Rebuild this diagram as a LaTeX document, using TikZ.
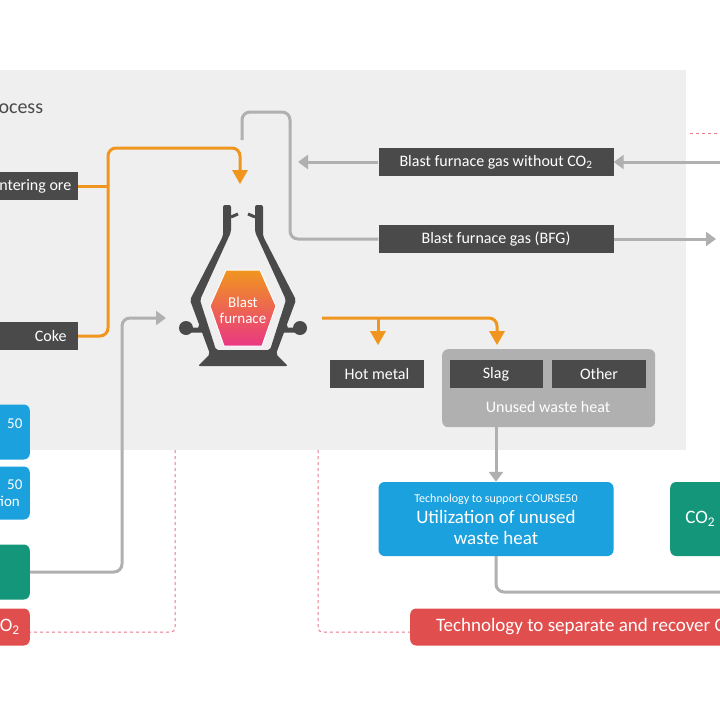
\documentclass[tikz,border=0pt]{standalone}
\usepackage{fontspec}
\setmainfont{Carlito}
\usetikzlibrary{arrows.meta}
\definecolor{dgray}{HTML}{4A4A4A}
\definecolor{bgray}{HTML}{EFEFEF}
\definecolor{pgray}{HTML}{B0B0B0}
\definecolor{orng}{HTML}{F0961E}
\definecolor{cblue}{HTML}{1BA1DD}
\definecolor{cgreen}{HTML}{14967A}
\definecolor{cred}{HTML}{E04E4E}
\definecolor{pink}{HTML}{E8788C}
\tikzstyle{box}=[rectangle,fill=dgray,text=white,inner sep=0pt,font=\fontsize{16}{18}\selectfont]
\tikzstyle{tech}=[rectangle,rounded corners=6pt,text=white,inner sep=0pt,align=center]
\tikzstyle{ore}=[draw=orng,line width=3pt,rounded corners=8pt]
\tikzstyle{pipe}=[draw=pgray,line width=3pt,rounded corners=8pt]
\tikzstyle{link}=[draw=pink,line width=1pt,dash pattern=on 3pt off 3pt,rounded corners=4pt]
\begin{document}
\begin{tikzpicture}[x=1pt,y=-1pt]
\useasboundingbox (0,0) rectangle (720,720);
\clip (0,0) rectangle (720,720);
\fill[bgray] (-10,70) rectangle (686,450);
\node[anchor=west,font=\fontsize{20}{22}\selectfont,text=dgray] (title) at (-22,107) {Process};

\node[box,minimum width=120,minimum height=28,anchor=east] (sinter) at (78,186) {\hspace*{24pt}Sintering ore};
\node[box,minimum width=80,minimum height=28,anchor=east] (coke) at (78,336) {\hspace*{26pt}Coke};
\node[box,minimum width=235,minimum height=28] (bfgno) at (496,162) {Blast furnace gas without CO\textsubscript{2}};
\node[box,minimum width=235,minimum height=28] (bfg) at (496,239) {Blast furnace gas (BFG)};

% furnace
\coordinate (furnace) at (243,290);
\fill[dgray,rounded corners=2pt] (223,205) -- (231,205) -- (231,232) -- (200,300) -- (216,350) -- (270,350) -- (286,300) -- (255,232) -- (255,205) -- (263,205) -- (263,236) -- (296,300) -- (276,354) -- (288,366) -- (198,366) -- (210,354) -- (190,300) -- (223,236) -- cycle;
\fill[dgray] (186,328) circle (7) (300,328) circle (7);
\draw[dgray,line width=5pt] (188,330) -- (200,330) -- (204,318) (298,330) -- (286,330) -- (282,318);
\draw[dgray,line width=3pt] (231,217) -- (238,214) (255,217) -- (248,214);
\shade[top color=orng,bottom color=cred!70!magenta,draw=white,line width=1pt] (226,270) -- (260,270) -- (276,306) -- (262,346) -- (224,346) -- (210,306) -- cycle;
\node[text=white,align=center,font=\fontsize{15}{16}\selectfont] (bf) at (243,310) {Blast\\furnace};

\draw[ore] (sinter.east) -- (108,186);
\draw[ore] (coke.east) -- (108,336) -- (108,148) -- (240,148) -- (240,172);
\fill[orng] (232,170) -- (248,170) -- (240,184) -- cycle;
\draw[ore] (322,318) -- (497,318) -- (497,333);
\draw[ore] (378,318) -- (378,333);
\fill[orng] (370,331) -- (386,331) -- (378,345) -- cycle;
\fill[orng] (489,331) -- (505,331) -- (497,345) -- cycle;

\draw[pipe] (242,140) -- (242,112) -- (290,112) -- (290,239) -- (bfg.west);
\draw[pipe,-{Triangle[length=10pt,width=14pt]}] (bfg.east) -- (716,239);
\draw[pipe,-{Triangle[length=10pt,width=14pt]}] (730,162) -- (bfgno.east);
\draw[pipe,-{Triangle[length=10pt,width=14pt]}] (bfgno.west) -- (298,162);

\node[box,minimum width=94,minimum height=28] (hot) at (377,374) {Hot metal};
\node[tech,fill=pgray,minimum width=213,minimum height=78,anchor=north west] (waste) at (442,349) {};
\node[box,minimum width=93,minimum height=28] (slag) at (496,374) {Slag};
\node[box,minimum width=94,minimum height=28] (other) at (599,374) {Other};
\node[text=white,font=\fontsize{16}{18}\selectfont] (wlabel) at (548,407) {Unused waste heat};

\node[tech,fill=cblue,minimum width=235,minimum height=74,font=\fontsize{19}{21}\selectfont] (util) at (496,519) {{\fontsize{12}{14}\selectfont Technology to support COURSE50}\\Utilization of unused\\waste heat};
\draw[pipe,-{Triangle[length=10pt,width=14pt]}] (waste.south -| util) -- (util.north);
\node[tech,fill=cgreen,minimum width=120,minimum height=74,anchor=west,font=\fontsize{19}{21}\selectfont] (co2) at (670,519) {\hspace*{-60pt}CO\textsubscript{2}};
\draw[pipe] (util.south) -- (496,592) -- (730,592);
\node[tech,fill=cred,minimum width=380,minimum height=37,anchor=west,font=\fontsize{19}{21}\selectfont] (sep) at (410,627) {\hspace*{-20pt}Technology to separate and recover CO\textsubscript{2}};

% left edge
\node[tech,fill=cblue,minimum width=80,minimum height=55,anchor=east,font=\fontsize{15}{17}\selectfont] (lb1) at (30,432) {\hspace*{50pt}50\\~};
\node[tech,fill=cblue,minimum width=80,minimum height=53,anchor=east,font=\fontsize{15}{17}\selectfont] (lb2) at (30,493) {\hspace*{50pt}50\\\hspace*{36pt}tion};
\node[tech,fill=cgreen,minimum width=80,minimum height=55,anchor=east] (lg) at (30,572) {};
\node[tech,fill=cred,minimum width=80,minimum height=37,anchor=east,font=\fontsize{19}{21}\selectfont,text=white] (lr) at (30,627) {\hspace*{40pt}O\textsubscript{2}};
\draw[pipe,-{Triangle[length=10pt,width=14pt]}] (lg.east) -- (122,572) -- (122,318) -- (166,318);

\draw[link] (175,450) -- (175,632) -- (lr.east |- 0,632);
\draw[link] (318,450) -- (318,632) -- (sep.west |- 0,632);
\draw[link] (690,133) -- (720,133);
\end{tikzpicture}
\end{document}
